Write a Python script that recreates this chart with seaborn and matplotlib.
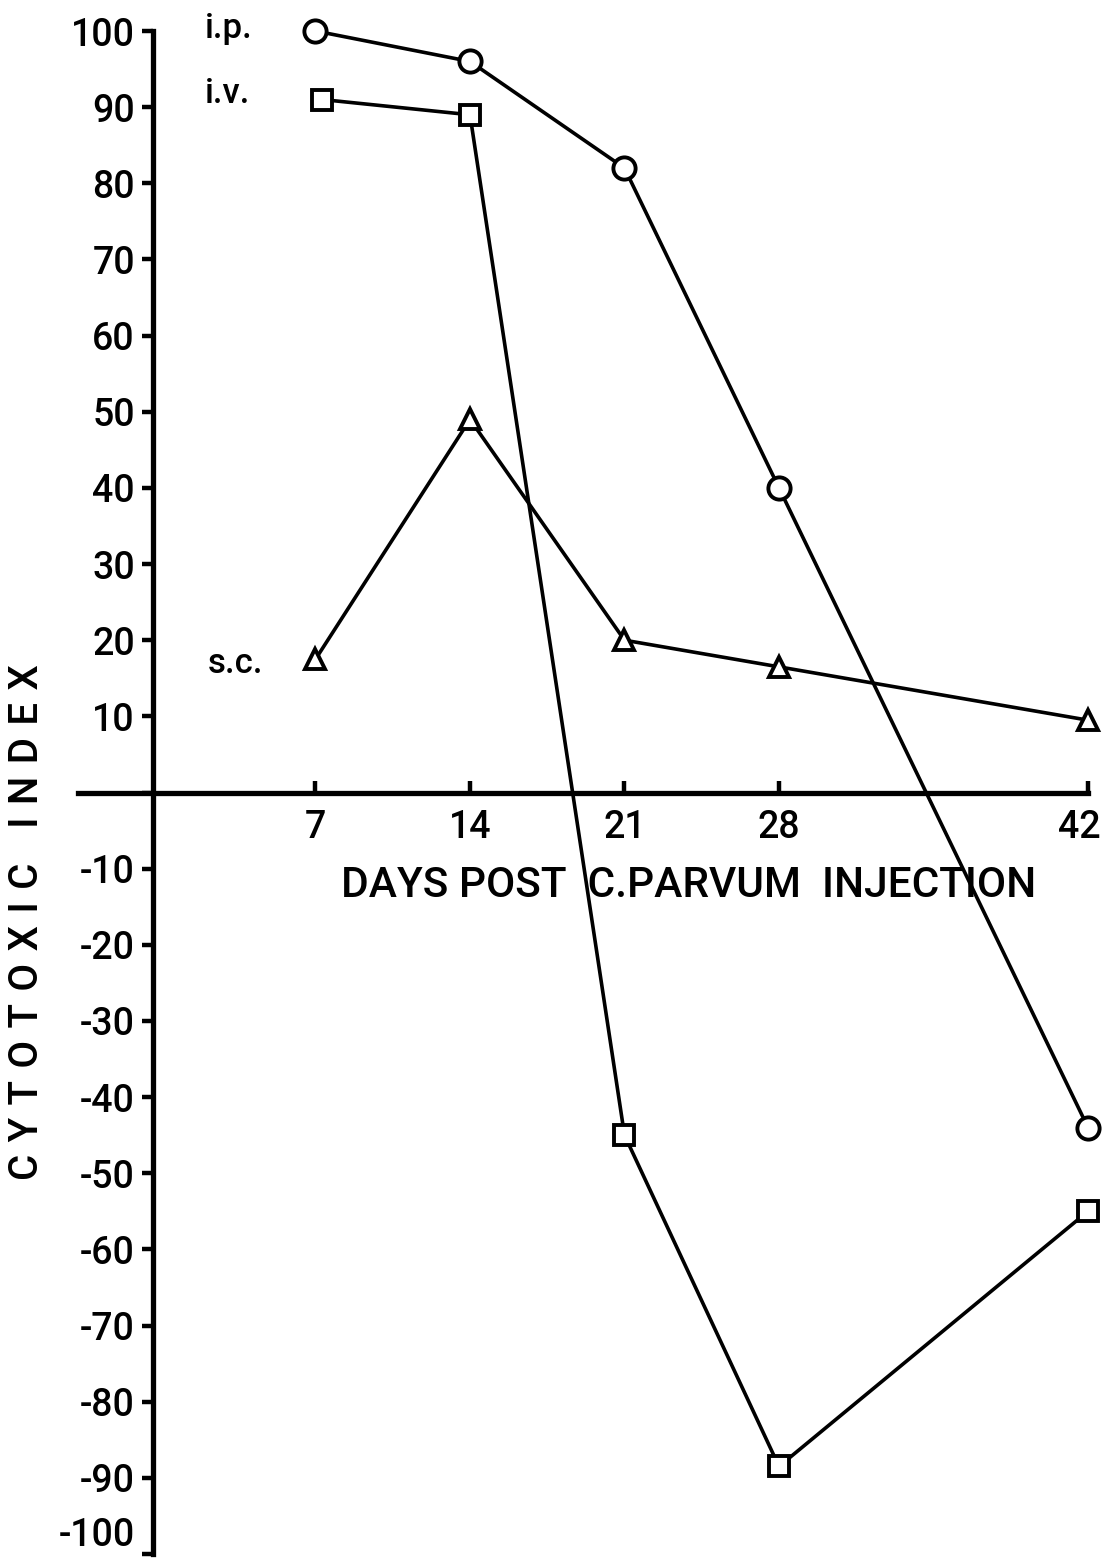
import matplotlib
matplotlib.use("Agg")
import matplotlib.pyplot as plt
import matplotlib.transforms as mtransforms
import seaborn as sns

sns.set_theme(style="white")
plt.rcParams['font.family'] = ['Roboto', 'DejaVu Sans']
plt.rcParams['font.weight'] = 500
plt.rcParams['axes.unicode_minus'] = False

days = [7, 14, 21, 28, 42]
days_iv = [7.3, 14, 21, 28, 42]
ip_vals = [100, 96, 82, 40, -44]
iv_vals = [91, 89, -45, -88.5, -55]
sc_vals = [17.5, 49, 20, 16.5, 9.5]
xticks = [7, 14, 21, 28, 42]
yticks = list(range(-100, 101, 10))
ytick_labels = ['' if v == 0 else str(v) for v in yticks]

W, H = 1106, 1566
fig = plt.figure(figsize=(W / 100, H / 100), dpi=100)
x0, x1 = -3.76, 42.0
ax = fig.add_axes([78 / W, 1 - 1554 / H, (1088 - 78) / W, (1554 - 31) / H])
ax.set_xlim(x0, x1)
ax.set_ylim(-100, 100)

common = dict(color='black', linewidth=2.6, markerfacecolor='white',
              markeredgecolor='black', markeredgewidth=2.8, clip_on=False, ax=ax)
sns.lineplot(x=days, y=ip_vals, marker='o', markersize=16, sort=False, **common)
sns.lineplot(x=days_iv, y=iv_vals, marker='s', markersize=15, sort=False, **common)
sns.lineplot(x=days, y=sc_vals, marker='^', markersize=15, sort=False, **common)

for s in ['top', 'right']:
    ax.spines[s].set_visible(False)
ax.spines['left'].set_position(('data', -0.36))
ax.spines['bottom'].set_position(('data', 0))
ax.spines['left'].set_bounds(-100, 100)
ax.spines['bottom'].set_bounds(x0, 42)
for s in ['left', 'bottom']:
    ax.spines[s].set_linewidth(3.8)
    ax.spines[s].set_color('black')
    ax.spines[s].set_zorder(1)

ax.set_yticks(yticks)
ax.set_yticklabels(ytick_labels)
ax.set_xticks(xticks)
ax.set_xticklabels([str(v) for v in xticks])
ax.tick_params(axis='y', direction='out', length=8, width=3.2, labelsize=27,
               pad=5, colors='black', left=True)
ax.tick_params(axis='x', direction='in', length=9, width=3.2, labelsize=27,
               pad=12, colors='black', bottom=True)
ax.set_xlabel('')
ax.set_ylabel('')
ax.grid(False)

# nudge the end labels inward like the original drawing
last_x = ax.get_xticklabels()[-1]
last_x.set_transform(last_x.get_transform() +
                     mtransforms.ScaledTranslation(-9 / 100, 0, fig.dpi_scale_trans))
ax.get_yticklabels()[0].set_verticalalignment('bottom')

ax.text(23.9, -12.2, 'DAYS POST  C.PARVUM  INJECTION', ha='center', va='center',
        fontsize=30.5, color='black')
ylab = '\u2009\u200a'.join('CYTOTOXIC INDEX')
fig.text(27 / W, 1 - 922 / H, ylab, rotation=90, ha='center',
         va='center', fontsize=29, color='black')

ax.text(2.0, 99.1, 'i.p.', ha='left', va='baseline', fontsize=25, color='black')
ax.text(2.0, 90.5, 'i.v.', ha='left', va='baseline', fontsize=25, color='black')
ax.text(2.1, 15.7, 's.c.', ha='left', va='baseline', fontsize=25, color='black')

fig.savefig('out.png', dpi=100, facecolor='white')
